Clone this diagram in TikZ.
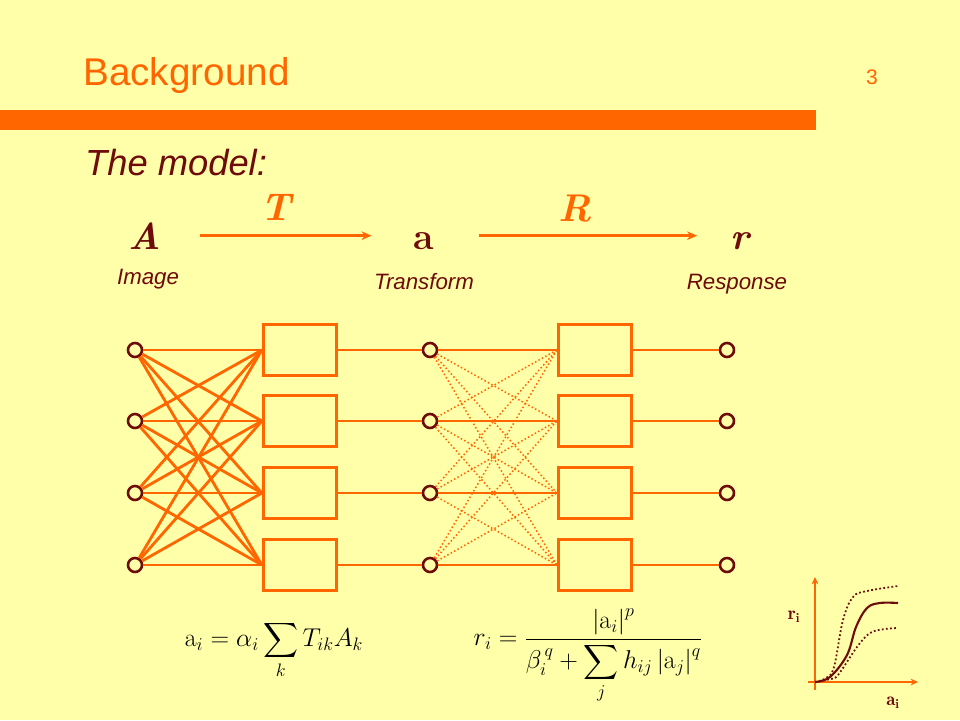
\RequirePackage{fix-cm}
\documentclass[tikz,border=0pt]{standalone}
\usepackage{amsmath}
\usepackage{fontspec}
\setsansfont{Liberation Sans}
\usetikzlibrary{arrows.meta}
\definecolor{bgyel}{HTML}{FFFFAA}
\definecolor{sorange}{HTML}{FF6600}
\definecolor{sbrown}{HTML}{6E0B0B}

\begin{document}
\begin{tikzpicture}[x=0.03cm,y=-0.03cm,>={Stealth[length=3mm,width=2.6mm]},
  circ/.style={circle,draw=sbrown,line width=2.2pt,fill=bgyel,minimum size=0.42cm,inner sep=0pt},
  unit/.style={draw=sorange,line width=2.5pt,minimum width=2.2cm,minimum height=1.52cm,inner sep=0pt},
  wire/.style={draw=sorange,line width=2.4pt},
  link/.style={draw=sorange,line width=1.3pt,dotted},
  big/.style={font=\fontsize{32}{36}\selectfont\bfseries,text=sbrown,inner sep=0pt,anchor=base},
  op/.style={font=\fontsize{33}{36}\selectfont\bfseries\itshape,text=sorange,inner sep=0pt,anchor=base},
  lbl/.style={font=\sffamily\itshape\fontsize{19}{22}\selectfont,text=sbrown,inner sep=0pt,anchor=base},
  eq/.style={font=\fontsize{22}{26}\selectfont,inner sep=0pt},
  axl/.style={font=\fontsize{16}{18}\selectfont,text=sbrown,inner sep=0pt}]

\fill[bgyel] (0,0) rectangle (960,720);
\fill[sorange] (0,110) rectangle (816,130);

\node[font=\sffamily\fontsize{33}{40}\selectfont,text=sorange,anchor=base west,inner sep=0pt] (title) at (83,85) {Background};
\node[font=\sffamily\fontsize{18}{22}\selectfont,text=sorange,anchor=base east,inner sep=0pt] (page) at (878,84) {3};
\node[font=\sffamily\itshape\fontsize{31}{36}\selectfont,text=sbrown,anchor=base west,inner sep=0pt] (model) at (85,175) {The model:};

\node[big] (A) at (145,249) {\itshape A};
\node[big] (a) at (424,249) {a};
\node[big] (r) at (740,249) {\itshape r};
\node[op] (T) at (276,220) {T};
\node[op] (R) at (575,221) {R};
\draw[->,wire,line width=2.5pt,shorten <=1.17cm,shorten >=1.26cm] (A.east) -- (A.east -| a.west);
\draw[->,wire,line width=2.5pt,shorten <=1.35cm,shorten >=1cm] (A.east -| a.east) -- (A.east -| r.west);

\node[lbl] (img) at (148,284) {Image};
\node[lbl] (trf) at (424,289) {Transform};
\node[lbl] (rsp) at (737,289) {Response};

\foreach \i/\y in {1/350,2/421,3/493,4/565} {
  \node[circ] (c\i) at (135,\y) {};
  \node[unit] (b\i) at (300,\y) {};
  \node[circ] (m\i) at (430,\y) {};
  \node[unit] (q\i) at (595,\y) {};
  \node[circ] (o\i) at (727,\y) {};
}
\foreach \i in {1,...,4} {
  \draw[wire] (b\i) -- (m\i);
  \draw[wire] (m\i) -- (q\i);
  \draw[wire] (q\i) -- (o\i);
  \foreach \j in {1,...,4} {
    \draw[wire] (c\i) -- (b\j.west);
    \ifnum\i=\j\else\draw[link] (m\i) -- (q\j.west);\fi
  }
}

\node[eq] (eqa) at (274,650) {$\mathrm{a}_i = \alpha_i \displaystyle\sum_k T_{ik} A_k$};
\node[eq] (eqr) at (588,656) {$r_i = \dfrac{\left|\mathrm{a}_i\right|^p}{\beta_i^{\,q} + \displaystyle\sum_j h_{ij} \left|\mathrm{a}_j\right|^q}$};

\coordinate (org) at (815,682);
\draw[->,sorange,line width=1.5pt,>={Stealth[length=2.2mm,width=2mm]}] (815,690) -- (815,577);
\draw[->,sorange,line width=1.5pt,>={Stealth[length=2.2mm,width=2mm]}] (808,682) -- (918,682);
\draw[sbrown,line width=1.8pt] plot[smooth,tension=0.6] coordinates {(815,682) (830,677) (847,655) (856,627) (867,608) (880,603) (898,603)};
\draw[sbrown,line width=1.5pt,dotted] plot[smooth,tension=0.6] coordinates {(815,682) (826,678) (834,667) (843,620) (853,597) (867,591) (898,586)};
\draw[sbrown,line width=1.5pt,dotted] plot[smooth,tension=0.6] coordinates {(815,682) (830,679) (838,675) (857,647) (870,633) (885,629) (898,628)};
\node[axl] (ri) at (794,617) {$\mathbf{r}_\mathbf{i}$};
\node[axl] (ai) at (893,703) {$\mathbf{a}_\mathbf{i}$};
\end{tikzpicture}
\end{document}
